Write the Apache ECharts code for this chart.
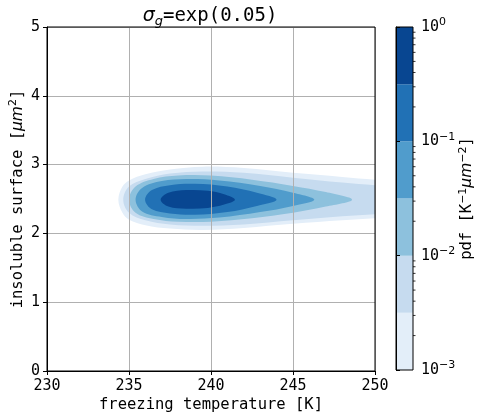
<!DOCTYPE html>
<html>
<head>
<meta charset="utf-8">
<script src="https://cdn.jsdelivr.net/npm/echarts@6/dist/echarts.min.js"></script>
<style>
  html, body { margin: 0; padding: 0; background: #fff; }
  #chart { width: 477px; height: 413px; }
</style>
</head>
<body>
<div id="chart"></div>
<script>
// contour levels of the pdf (half decades) and their fill colours (Blues)
const levels = [0.001, 0.00316, 0.01, 0.0316, 0.1, 0.316, 1];
const levelColors = ['#e3eef9', '#c6dbef', '#8dc1dd', '#509ccc', '#2171b5', '#084691'];

// contour outlines: [temperature, surface low, surface high]
const contour1 = [[234.35, 2.49, 2.49], [234.6, 2.30, 2.68], [235, 2.20, 2.77], [236, 2.12, 2.86], [237.5, 2.07, 2.93], [239.5, 2.05, 2.97], [242, 2.08, 2.95], [245, 2.14, 2.88], [248, 2.19, 2.82], [250, 2.22, 2.78], [252, 2.25, 2.74], [253, 2.49, 2.49]];
const contour2 = [[234.65, 2.49, 2.49], [235, 2.30, 2.68], [236, 2.19, 2.79], [237.5, 2.13, 2.87], [239.5, 2.11, 2.90], [242, 2.13, 2.88], [245, 2.19, 2.81], [248, 2.25, 2.74], [250, 2.28, 2.70], [252, 2.31, 2.67], [253, 2.49, 2.49]];
const contour3 = [[235.0, 2.49, 2.49], [235.4, 2.30, 2.68], [236.5, 2.21, 2.79], [238, 2.17, 2.84], [240, 2.17, 2.84], [242.5, 2.22, 2.78], [245, 2.30, 2.69], [247, 2.39, 2.60], [248.6, 2.49, 2.49]];
const contour4 = [[235.4, 2.49, 2.49], [235.8, 2.32, 2.66], [237, 2.24, 2.76], [238.5, 2.21, 2.79], [240.5, 2.23, 2.77], [243, 2.31, 2.69], [245, 2.40, 2.59], [246.3, 2.49, 2.49]];
const contour5 = [[235.98, 2.49, 2.49], [236.4, 2.35, 2.63], [237.5, 2.29, 2.70], [239, 2.27, 2.72], [241, 2.31, 2.68], [242.8, 2.40, 2.59], [244.0, 2.49, 2.49]];
const contour6 = [[236.93, 2.49, 2.49], [237.4, 2.39, 2.59], [238.5, 2.36, 2.63], [239.8, 2.37, 2.62], [240.8, 2.42, 2.57], [241.46, 2.49, 2.49]];
const contours = [contour1, contour2, contour3, contour4, contour5, contour6];

// colorbar minor ticks
const minorTicks = [0.002, 0.003, 0.004, 0.005, 0.006, 0.007, 0.008, 0.009,
  0.02, 0.03, 0.04, 0.05, 0.06, 0.07, 0.08, 0.09,
  0.2, 0.3, 0.4, 0.5, 0.6, 0.7, 0.8, 0.9];

const mono = 'DejaVu Sans Mono';
const sans = 'DejaVu Sans';

let chart = echarts.init(document.getElementById('chart'), null, { renderer: 'canvas' });

chart.setOption({
  animation: false,
  backgroundColor: '#fff',
  title: {
    text: '{s|σ}{g|g}{t|=exp(0.05)}',
    left: 205,
    top: -1,
    textAlign: 'center',
    textStyle: {
      fontWeight: 'normal',
      rich: {
        s: { fontFamily: sans, fontStyle: 'italic', fontWeight: 'normal', fontSize: 19, color: '#000', lineHeight: 24 },
        g: { fontFamily: sans, fontStyle: 'italic', fontWeight: 'normal', fontSize: 13, color: '#000', lineHeight: 13, verticalAlign: 'bottom' },
        t: { fontFamily: mono, fontWeight: 'normal', fontSize: 19, color: '#000', lineHeight: 24 }
      }
    }
  },
  grid: [
    { left: 47, right: 102, top: 27, bottom: 42, show: true, borderColor: '#000', borderWidth: 1, z: 10, outerBoundsMode: 'none', containLabel: false },
    { left: 396, width: 17, top: 27, bottom: 43, show: true, borderColor: '#000', borderWidth: 1, z: 10, outerBoundsMode: 'none', containLabel: false }
  ],
  xAxis: [
    {
      gridIndex: 0, type: 'value', min: 230, max: 250, interval: 5, z: 5,
      name: 'freezing temperature [K]', nameLocation: 'middle', nameGap: 26, nameMoveOverlap: false,
      nameTextStyle: { fontFamily: mono, fontSize: 15.5, color: '#000' },
      axisLine: { lineStyle: { color: '#000', width: 1 } },
      axisTick: { length: 4, lineStyle: { color: '#000' } },
      axisLabel: { fontFamily: mono, fontSize: 15, color: '#000', margin: 8 },
      splitLine: { show: true, lineStyle: { color: '#b0b0b0', width: 1 } }
    },
    { gridIndex: 1, type: 'value', min: 0, max: 1, show: false }
  ],
  yAxis: [
    {
      gridIndex: 0, type: 'value', min: 0, max: 5, interval: 1, z: 5,
      name: 'insoluble surface [{i|μm}{sup|2}]', nameLocation: 'middle', nameGap: 19, nameRotate: 90, nameMoveOverlap: false,
      nameTextStyle: {
        fontFamily: mono, fontSize: 15.5, color: '#000', lineHeight: 20,
        rich: {
          i: { fontFamily: sans, fontStyle: 'italic', fontSize: 15.5, color: '#000', lineHeight: 20 },
          sup: { fontFamily: sans, fontSize: 11, color: '#000', lineHeight: 11, verticalAlign: 'top' }
        }
      },
      axisLine: { show: true, lineStyle: { color: '#000', width: 1 } },
      axisTick: { show: true, length: 4, lineStyle: { color: '#000' } },
      axisLabel: { fontFamily: mono, fontSize: 15, color: '#000', margin: 7 },
      splitLine: { show: true, lineStyle: { color: '#b0b0b0', width: 1 } }
    },
    {
      gridIndex: 1, type: 'log', logBase: 10, min: 0.001, max: 1, position: 'right', z: 5,
      name: 'pdf [K{sup|−1}{i|μm}{sup|−2}]', nameLocation: 'middle', nameGap: 45, nameRotate: 90, nameMoveOverlap: false,
      nameTextStyle: {
        fontFamily: mono, fontSize: 15.5, color: '#000', lineHeight: 18,
        rich: {
          i: { fontFamily: sans, fontStyle: 'italic', fontSize: 15.5, color: '#000', lineHeight: 18 },
          sup: { fontFamily: sans, fontSize: 11, color: '#000', lineHeight: 11, verticalAlign: 'top' }
        }
      },
      axisLine: { show: true, lineStyle: { color: '#000', width: 1 } },
      axisTick: { show: true, length: 4, lineStyle: { color: '#000' } },
      axisLabel: {
        margin: 8,
        formatter: function (v) {
          let e = Math.round(Math.log10(v));
          return '{b|10}{e|' + (e < 0 ? '−' + (-e) : e) + '}';
        },
        rich: {
          b: { fontFamily: mono, fontSize: 15, color: '#000', lineHeight: 20 },
          e: { fontFamily: sans, fontSize: 11, color: '#000', lineHeight: 11, verticalAlign: 'top' }
        }
      },
      splitLine: { show: false }
    }
  ],
  series: [
    {
      // filled contours, lowest level first
      type: 'custom',
      xAxisIndex: 0, yAxisIndex: 0,
      clip: true,
      data: contours.map(c => [c[0][0], c[0][1]]),
      renderItem: function (params, api) {
        let prof = contours[params.dataIndex];
        let pts = [];
        for (let i = 0; i < prof.length; i++) {
          pts.push(api.coord([prof[i][0], prof[i][2]]));
        }
        for (let i = prof.length - 2; i > 0; i--) {
          pts.push(api.coord([prof[i][0], prof[i][1]]));
        }
        return {
          type: 'polygon',
          shape: { points: pts, smooth: 0.35 },
          style: { fill: levelColors[params.dataIndex], stroke: null }
        };
      }
    },
    {
      // colorbar blocks
      type: 'custom',
      xAxisIndex: 1, yAxisIndex: 1,
      data: levelColors.map((c, i) => [0.5, levels[i]]),
      renderItem: function (params, api) {
        let i = params.dataIndex;
        let cs = params.coordSys;
        let y0 = api.coord([0.5, levels[i]])[1];
        let y1 = api.coord([0.5, levels[i + 1]])[1];
        return {
          type: 'rect',
          shape: { x: cs.x, y: y1, width: cs.width, height: y0 - y1 },
          style: { fill: levelColors[i] }
        };
      }
    },
    {
      // colorbar minor ticks
      type: 'custom',
      xAxisIndex: 1, yAxisIndex: 1,
      clip: false,
      z: 6,
      data: minorTicks.map(v => [1, v]),
      renderItem: function (params, api) {
        let cs = params.coordSys;
        let y = api.coord([1, api.value(1)])[1];
        return {
          type: 'line',
          shape: { x1: cs.x + cs.width, y1: y, x2: cs.x + cs.width + 2.5, y2: y },
          style: { stroke: '#000', lineWidth: 0.8 }
        };
      }
    }
  ]
});
</script>
</body>
</html>
